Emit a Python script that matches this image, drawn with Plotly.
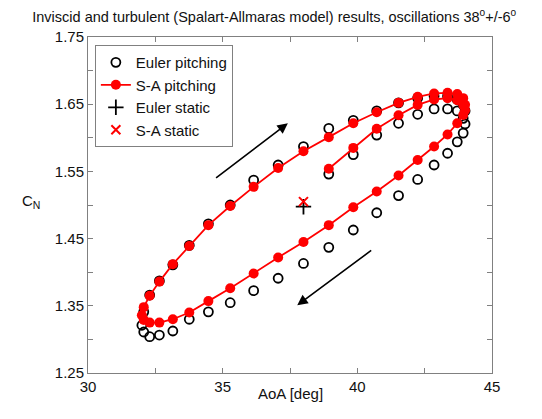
import plotly.graph_objects as go

# ---- data ----
aoa_sa = [38.94, 39.85, 40.72, 41.53, 42.24, 42.85, 43.35, 43.71, 43.93, 44.00,
          43.93, 43.71, 43.35, 42.85, 42.24, 41.53, 40.72, 39.85, 38.94, 38.00,
          37.06, 36.15, 35.28, 34.47, 33.76, 33.15, 32.65, 32.29, 32.07, 32.00,
          32.07, 32.29, 32.65, 33.15, 33.76, 34.47, 35.28, 36.15, 37.06, 38.00,
          38.94, 39.85, 40.72, 41.53, 42.24, 42.85, 43.35, 43.71, 43.93, 44.00]
cn_sa = [1.554, 1.585, 1.6135, 1.6335, 1.649, 1.657, 1.659, 1.656, 1.649, 1.641,
         1.634, 1.6216, 1.605, 1.587, 1.567, 1.544, 1.520, 1.4966, 1.470, 1.445,
         1.422, 1.398, 1.376, 1.357, 1.340, 1.330, 1.325, 1.325, 1.329, 1.336,
         1.348, 1.365, 1.386, 1.412, 1.439, 1.470, 1.4985, 1.527, 1.555, 1.580,
         1.601, 1.6216, 1.638, 1.652, 1.661, 1.666, 1.667, 1.665, 1.659, 1.649]

aoa_euler = aoa_sa
cn_euler = [1.546, 1.575, 1.604, 1.6216, 1.635, 1.643, 1.643, 1.640, 1.629, 1.6205,
            1.607, 1.594, 1.577, 1.5595, 1.538, 1.514, 1.4885, 1.4628, 1.437, 1.413,
            1.391, 1.3725, 1.3546, 1.341, 1.330, 1.3125, 1.3065, 1.304, 1.311, 1.321,
            1.341, 1.366, 1.387, 1.411, 1.440, 1.472, 1.500, 1.537, 1.5595, 1.587,
            1.614, 1.626, 1.640, 1.652, 1.659, 1.662, 1.662, 1.657, 1.649, 1.640]

static_aoa = [38.0]
static_cn_euler = [1.4975]
static_cn_sa = [1.505]

# arrows (start -> end), in data units
arrow_up = (34.70, 1.5387, 37.42, 1.6216)
arrow_down = (40.57, 1.434, 37.77, 1.351)

FONT = "Liberation Sans, Arial, Helvetica, sans-serif"
AX = "#808080"

fig = go.Figure()
fig.add_trace(go.Scatter(x=aoa_euler, y=cn_euler, mode="markers", name="Euler pitching",
                         marker=dict(symbol="circle-open", size=9, color="black",
                                     line=dict(width=1.8, color="black"))))
fig.add_trace(go.Scatter(x=aoa_sa, y=cn_sa, mode="lines+markers", name="S-A pitching",
                         line=dict(color="#ff0000", width=1.8),
                         marker=dict(symbol="circle", size=10, color="#ff0000")))
fig.add_trace(go.Scatter(x=static_aoa, y=static_cn_euler, mode="markers", name="Euler static",
                         marker=dict(symbol="cross-thin-open", size=11, color="black",
                                     line=dict(width=1.8, color="black"))))
fig.add_trace(go.Scatter(x=static_aoa, y=static_cn_sa, mode="markers", name="S-A static",
                         marker=dict(symbol="x-thin-open", size=9, color="#ff0000",
                                     line=dict(width=2, color="#ff0000"))))

for (x0, y0, x1, y1) in (arrow_up, arrow_down):
    fig.add_annotation(x=x1, y=y1, ax=x0, ay=y0, xref="x", yref="y", axref="x", ayref="y",
                       text="", showarrow=True, arrowhead=2, arrowsize=1.3,
                       arrowwidth=1.6, arrowcolor="black")

fig.add_annotation(text="C<sub>N</sub>", xref="paper", yref="paper", x=-0.168, y=0.51,
                   showarrow=False, font=dict(size=15, color="#111", family=FONT))
fig.add_annotation(text="AoA [deg]", xref="paper", yref="paper", x=0.5, y=-0.092,
                   showarrow=False, font=dict(size=15, color="#111", family=FONT))

axis_common = dict(showgrid=False, zeroline=False, showline=True, linecolor=AX, linewidth=1,
                   mirror="allticks", ticks="inside", ticklen=5, tickcolor=AX,
                   tickfont=dict(size=15, color="#111", family=FONT))
fig.update_xaxes(range=[30, 45], tick0=30, dtick=5,
                 minor=dict(dtick=2.5, ticks="inside", ticklen=5, tickcolor=AX),
                 **axis_common)
fig.update_yaxes(range=[1.25, 1.75], tick0=1.25, dtick=0.1, tickformat=".2f",
                 minor=dict(dtick=0.05, ticks="inside", ticklen=5, tickcolor=AX),
                 **axis_common)

fig.update_layout(
    width=542, height=419,
    margin=dict(l=88, r=50, t=37, b=46),
    paper_bgcolor="white", plot_bgcolor="white",
    font=dict(family=FONT, color="#111"),
    title=dict(text="Inviscid and turbulent (Spalart-Allmaras model) results, oscillations 38<sup>o</sup>+/-6<sup>o</sup>",
               x=0.506, xanchor="center", y=0.96, yanchor="middle",
               font=dict(size=14.5, color="#111", family=FONT)),
    legend=dict(x=0.017, y=0.976, xanchor="left", yanchor="top",
                bgcolor="white", bordercolor=AX, borderwidth=1,
                font=dict(size=15, color="#111", family=FONT), tracegroupgap=0),
    showlegend=True,
)

fig.write_html("out.html")
